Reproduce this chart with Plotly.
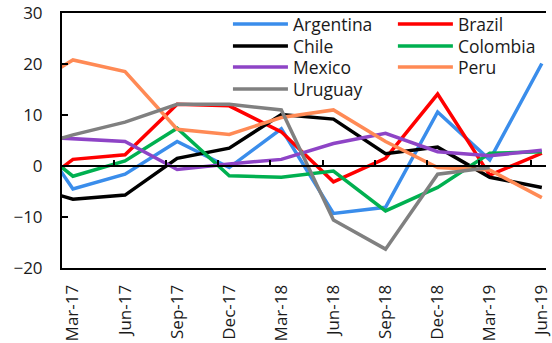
import plotly.graph_objects as go

# Quarterly series; the first quarter (Dec-16) sits just left of the visible range
quarters = ["Dec-16", "Mar-17", "Jun-17", "Sep-17", "Dec-17", "Mar-18",
            "Jun-18", "Sep-18", "Dec-18", "Mar-19", "Jun-19"]
tick_labels = quarters[1:]

argentina = [10.4, -4.5, -1.6, 4.8, -0.3, 7.3, -9.3, -8.1, 10.6, 1.2, 20.1]
brazil = [-6.4, 1.3, 2.2, 12.1, 11.8, 6.7, -3.1, 1.5, 14.1, -1.8, 2.5]
chile = [-3.6, -6.5, -5.7, 1.5, 3.5, 10.1, 9.2, 2.4, 3.7, -2.2, -4.2]
colombia = [6.2, -2.0, 1.0, 7.4, -1.9, -2.2, -1.0, -8.8, -4.2, 2.5, 2.8]
mexico = [5.9, 5.4, 4.8, -0.7, 0.4, 1.3, 4.4, 6.4, 2.8, 2.0, 3.1]
peru = [14.5, 20.8, 18.5, 7.2, 6.2, 9.5, 11.0, 4.8, -0.3, -0.8, -6.2]
uruguay = [3.2, 6.1, 8.6, 12.1, 12.1, 11.0, -10.6, -16.3, -1.6, -0.3, None]

series = [
    ("Argentina", argentina, "#3A8DEB"),
    ("Brazil", brazil, "#FF0000"),
    ("Chile", chile, "#000000"),
    ("Colombia", colombia, "#00B050"),
    ("Mexico", mexico, "#8E44C6"),
    ("Peru", peru, "#FF8A55"),
    ("Uruguay", uruguay, "#808080"),
]

# quarter index: Dec-16 -> -1, Mar-17 -> 0, ...
xpos = list(range(-1, len(tick_labels)))
x_range = [-0.21, 9.08]
tick_offset = 0.21

FONT = "Open Sans"
W, H = 552, 343
M_L, M_R, M_T, M_B = 62, 0, 13, 75
plot_w = W - M_L - M_R
plot_h = H - M_T - M_B

# legend laid out as a 2-column grid (row-major), one legend box per entry
legend_cols_px = [230, 397]
legend_rows_px = [24, 46, 67, 89]

fig = go.Figure()
legend_layouts = {}
for k, (name, vals, color) in enumerate(series):
    lname = "legend" if k == 0 else f"legend{k + 1}"
    fig.add_trace(go.Scatter(
        x=xpos, y=vals, name=name, mode="lines",
        line=dict(color=color, width=3.5),
        connectgaps=False, legend=lname,
    ))
    col, row = k % 2, k // 2
    legend_layouts[lname] = dict(
        x=(legend_cols_px[col] - M_L) / plot_w,
        y=(H - M_B - legend_rows_px[row]) / plot_h,
        xanchor="left", yanchor="middle",
        bgcolor="rgba(0,0,0,0)", borderwidth=0,
        font=dict(size=17.5, family=FONT, color="#1a1a1a"),
        itemwidth=55,
    )

# invisible trace carrying the zero-crossing axis with its tick marks
fig.add_trace(go.Scatter(x=[x_range[0]], y=[0], xaxis="x2", mode="markers",
                         marker=dict(opacity=0), showlegend=False, hoverinfo="skip"))

fig.update_layout(
    width=W, height=H,
    margin=dict(l=M_L, r=M_R, t=M_T, b=M_B),
    paper_bgcolor="white", plot_bgcolor="white",
    font=dict(family=FONT, size=17, color="#1a1a1a"),
    showlegend=True,
    xaxis=dict(
        range=x_range, showgrid=False, zeroline=False,
        tickmode="array", tickvals=list(range(len(tick_labels))), ticktext=tick_labels,
        tickangle=-90, ticks="", showline=True, mirror=True,
        linecolor="black", linewidth=2, ticklabelstandoff=8,
        ticklabeloverflow="allow", tickfont=dict(size=17),
    ),
    xaxis2=dict(
        overlaying="x", anchor="free", position=0.4, range=x_range,
        showline=True, linecolor="black", linewidth=2,
        tickmode="array",
        tickvals=[i - tick_offset for i in range(len(tick_labels))],
        ticks="inside", ticklen=5, tickwidth=2, tickcolor="black",
        showticklabels=False, showgrid=False, zeroline=False,
    ),
    yaxis=dict(
        range=[-20, 30], tickvals=[-20, -10, 0, 10, 20, 30],
        showgrid=False, zeroline=False, showline=True,
        linecolor="black", linewidth=2, ticks="inside", ticklen=6,
        tickwidth=2, tickcolor="black", ticklabelstandoff=14,
        tickfont=dict(size=17),
    ),
    **legend_layouts,
)

fig.write_html("out.html")
